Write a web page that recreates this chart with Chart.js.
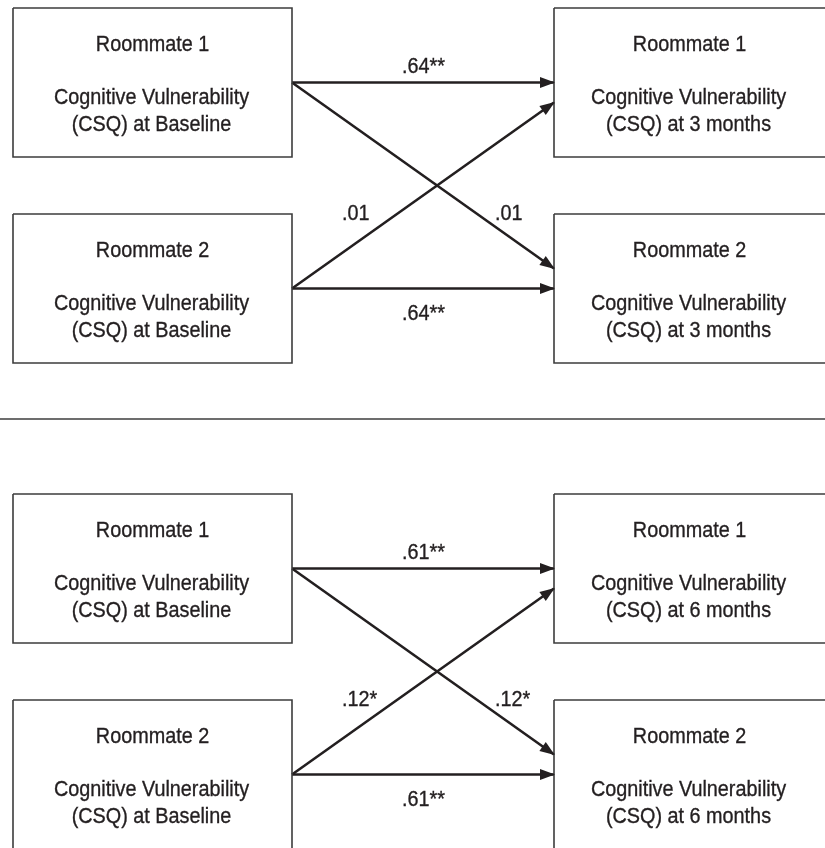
<!DOCTYPE html>
<html>
<head>
<meta charset="utf-8">
<script src="https://cdn.jsdelivr.net/npm/chart.js@4.4.1/dist/chart.umd.min.js"></script>
<style>
    html, body { margin: 0; padding: 0; background: #fff; }
    #wrap { width: 825px; height: 848px; position: relative; }
</style>
</head>
<body>
<div id="wrap"><canvas id="pathChart"></canvas></div>
<script>
'use strict';

// path model values
var roommates = ['Roommate 1', 'Roommate 2'];
var baselineLabel = 'Baseline';
var followUps = ['3 months', '6 months'];
var stabilityPaths = ['.64**', '.61**'];   // same roommate, baseline -> follow-up
var crossPaths = ['.01', '.12*'];          // other roommate, baseline -> follow-up

// layout (one data unit = one pixel)
var colLeft = [13, 554];
var colRight = [292, 826];
var rowTop = [8, 214];
var boxHeight = 149;
var panelOffset = 486;
var separatorY = 419;

// condensed look: regular sans squeezed horizontally
var FONT = '22px "Liberation Sans", Arial, sans-serif';
var SQUEEZE = 0.9;
var INK = '#231f20';

var datasets = [];
var texts = [];

function boxCenterY(panel, row) {
    return panel * panelOffset + rowTop[row] + boxHeight / 2;
}

followUps.forEach(function(when, p) {
    // boxes
    [0, 1].forEach(function(col) {
        roommates.forEach(function(name, row) {
            var top = p * panelOffset + rowTop[row];
            var bottom = top + boxHeight;
            datasets.push({
                data: [
                    {x: colLeft[col], y: top}, {x: colRight[col], y: top},
                    {x: colRight[col], y: bottom}, {x: colLeft[col], y: bottom},
                    {x: colLeft[col], y: top}
                ],
                borderColor: '#3c3c3c',
                borderWidth: 1.6
            });
            var cx = (colLeft[col] + Math.min(colRight[col], 825)) / 2;
            texts.push({text: name, x: cx, y: top + 43, align: 'center'});
            texts.push({text: 'Cognitive Vulnerability', x: cx - 1, y: top + 96, align: 'center'});
            texts.push({text: '(CSQ) at ' + (col === 0 ? baselineLabel : when), x: cx - 1, y: top + 123, align: 'center'});
        });
    });

    // arrows
    var y1 = boxCenterY(p, 0);
    var y2 = boxCenterY(p, 1);
    var arrows = [
        [{x: colRight[0], y: y1}, {x: colLeft[1], y: y1}],
        [{x: colRight[0], y: y1}, {x: colLeft[1], y: y2 - 20}],
        [{x: colRight[0], y: y2}, {x: colLeft[1], y: y1 + 20}],
        [{x: colRight[0], y: y2}, {x: colLeft[1], y: y2}]
    ];
    arrows.forEach(function(pts) {
        datasets.push({data: pts, borderColor: INK, borderWidth: 2.6, arrow: true});
    });

    texts.push({text: stabilityPaths[p], x: 402, y: y1 - 10, align: 'left'});
    texts.push({text: stabilityPaths[p], x: 402, y: y2 + 31, align: 'left'});
    texts.push({text: crossPaths[p], x: 342, y: p * panelOffset + 220, align: 'left'});
    texts.push({text: crossPaths[p], x: 495, y: p * panelOffset + 220, align: 'left'});
});

// panel separator
datasets.push({
    data: [{x: 0, y: separatorY}, {x: 825, y: separatorY}],
    borderColor: '#3c3c3c',
    borderWidth: 1.6
});

var diagramPlugin = {
    id: 'diagram',
    afterDatasetsDraw: function(chart) {
        var ctx = chart.ctx;
        var xs = chart.scales.x;
        var ys = chart.scales.y;

        chart.data.datasets.forEach(function(ds, i) {
            if (!ds.arrow) return;
            var meta = chart.getDatasetMeta(i);
            var a = meta.data[0], b = meta.data[1];
            var ang = Math.atan2(b.y - a.y, b.x - a.x);
            ctx.save();
            ctx.translate(b.x, b.y);
            ctx.rotate(ang);
            ctx.beginPath();
            ctx.moveTo(1, 0);
            ctx.lineTo(-14, -5.5);
            ctx.lineTo(-14, 5.5);
            ctx.closePath();
            ctx.fillStyle = ds.borderColor;
            ctx.fill();
            ctx.restore();
        });

        ctx.save();
        ctx.fillStyle = INK;
        ctx.strokeStyle = INK;
        ctx.lineWidth = 0.35;
        ctx.font = FONT;
        ctx.textBaseline = 'alphabetic';
        texts.forEach(function(t) {
            ctx.save();
            ctx.translate(xs.getPixelForValue(t.x), ys.getPixelForValue(t.y));
            ctx.scale(SQUEEZE, 1);
            ctx.textAlign = t.align;
            ctx.fillText(t.text, 0, 0);
            ctx.strokeText(t.text, 0, 0);
            ctx.restore();
        });
        ctx.restore();
    }
};

datasets.forEach(function(ds) {
    ds.showLine = true;
    ds.fill = false;
    ds.pointRadius = 0;
    ds.pointHoverRadius = 0;
    ds.tension = 0;
});

new Chart(document.getElementById('pathChart').getContext('2d'), {
    type: 'scatter',
    data: { datasets: datasets },
    options: {
        responsive: true,
        maintainAspectRatio: false,
        animation: false,
        events: [],
        layout: { padding: 0 },
        plugins: { legend: { display: false }, tooltip: { enabled: false } },
        scales: {
            x: { type: 'linear', display: false, min: 0, max: 825 },
            y: { type: 'linear', display: false, min: 0, max: 848, reverse: true }
        }
    },
    plugins: [diagramPlugin]
});
</script>
</body>
</html>
